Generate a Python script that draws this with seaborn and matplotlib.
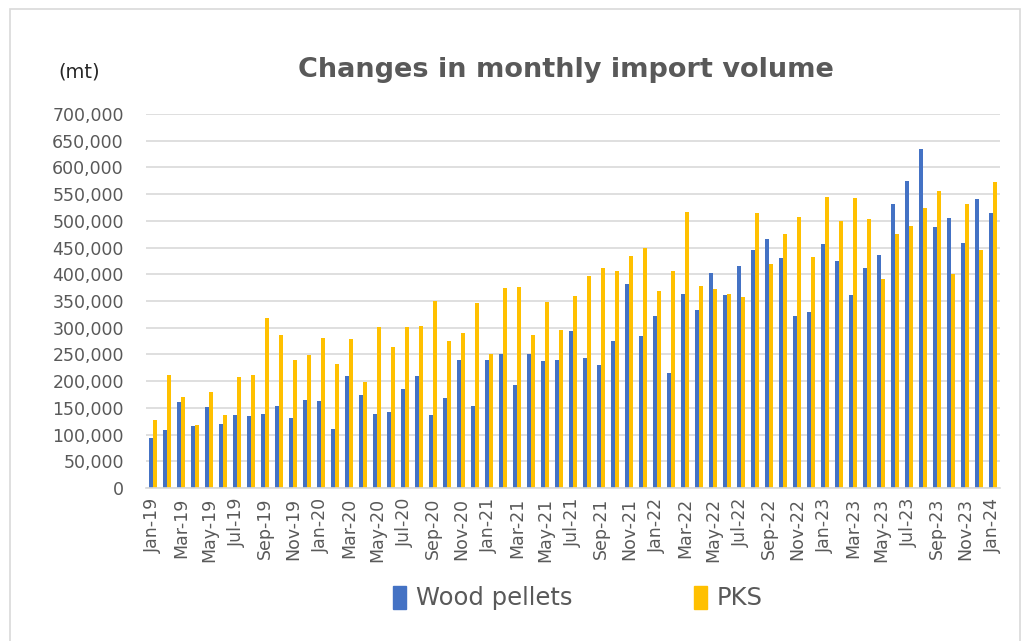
import numpy as np
import pandas as pd
import matplotlib
matplotlib.use("Agg")
import matplotlib.pyplot as plt
import seaborn as sns
from matplotlib.ticker import FuncFormatter, MultipleLocator
from matplotlib.patches import Rectangle, Patch

# month labels Jan-19 .. Jan-24
months = pd.date_range("2019-01-01", periods=61, freq="MS").strftime("%b-%y").tolist()

wood_pellets = [
    94000, 108000, 161000, 116000, 152000, 120000, 137000, 134000, 139000, 154000,
    131000, 165000, 162000, 111000, 209000, 174000, 139000, 143000, 186000, 209000,
    136000, 169000, 240000, 153000, 240000, 250000, 192000, 251000, 238000, 240000,
    293000, 244000, 230000, 276000, 381000, 284000, 322000, 215000, 364000, 333000,
    403000, 361000, 416000, 446000, 466000, 430000, 322000, 330000, 456000, 424000,
    361000, 411000, 436000, 532000, 574000, 634000, 488000, 506000, 458000, 541000,
    514000,
]
pks = [
    128000, 212000, 171000, 118000, 179000, 136000, 207000, 212000, 319000, 286000,
    240000, 248000, 281000, 233000, 278000, 199000, 301000, 263000, 302000, 304000,
    350000, 276000, 291000, 346000, 251000, 374000, 376000, 286000, 349000, 296000,
    359000, 396000, 411000, 406000, 434000, 449000, 369000, 407000, 516000, 378000,
    373000, 363000, 358000, 514000, 419000, 476000, 507000, 432000, 544000, 499000,
    542000, 503000, 392000, 476000, 490000, 524000, 556000, 401000, 531000, 445000,
    572000,
]
series_names = ["Wood pellets", "PKS"]
colors = {"Wood pellets": "#4472C4", "PKS": "#FFC000"}

df = pd.DataFrame({
    "month": months * 2,
    "series": [series_names[0]] * len(months) + [series_names[1]] * len(months),
    "volume": wood_pellets + pks,
})

sns.set_theme(style="white")
plt.rcParams["font.family"] = ["DejaVu Sans"]
text_color = "#595959"

fig = plt.figure(figsize=(10.27, 6.41), dpi=100)
ax = fig.add_axes([146 / 1027, 1 - 488 / 641, 854 / 1027, 374 / 641])

sns.barplot(data=df, x="month", y="volume", hue="series", palette=colors,
            width=0.62, saturation=1, ax=ax, legend=False, errorbar=None,
            linewidth=0)

ax.set_xlim(-0.5, len(months) - 0.5)
ax.set_ylim(0, 700000)
ax.yaxis.set_major_locator(MultipleLocator(50000))
ax.yaxis.set_major_formatter(FuncFormatter(lambda v, p: f"{int(v):,}"))
ax.grid(axis="y", color="#D9D9D9", linewidth=1.2)
ax.set_axisbelow(True)
for s in ["top", "right", "left"]:
    ax.spines[s].set_visible(False)
ax.spines["bottom"].set_color("#D9D9D9")
ax.spines["bottom"].set_linewidth(1.2)

ax.set_xticks(range(0, len(months), 2))
ax.set_xticklabels(months[::2], rotation=90, fontsize=12.5, color=text_color)
ax.tick_params(axis="y", labelsize=12.5, colors=text_color, length=0, pad=16)
ax.tick_params(axis="x", length=0, pad=7)
ax.set_xlabel("")
ax.set_ylabel("")

fig.text(566 / 1027, 1 - 70 / 641, "Changes in monthly import volume",
         ha="center", va="center", fontsize=19.5, fontweight="bold", color=text_color)
fig.text(79 / 1027, 1 - 72 / 641, "(mt)", ha="center", va="center",
         fontsize=14, color="#262626")

handles = [Patch(color=colors[n], label=n) for n in series_names]
fig.legend(handles=handles, loc="center", bbox_to_anchor=(578 / 1027, 1 - 598 / 641),
           ncol=2, frameon=False, fontsize=17.5, handlelength=0.55, handleheight=1.1,
           handletextpad=0.4, columnspacing=5, labelcolor=text_color)

fig.patches.append(Rectangle((10 / 1027, -0.01), 1010 / 1027, 1 - 9 / 641 + 0.01,
                             transform=fig.transFigure, fill=False,
                             edgecolor="#D9D9D9", linewidth=1.2))

fig.savefig("out.png", dpi=100, facecolor="white")
